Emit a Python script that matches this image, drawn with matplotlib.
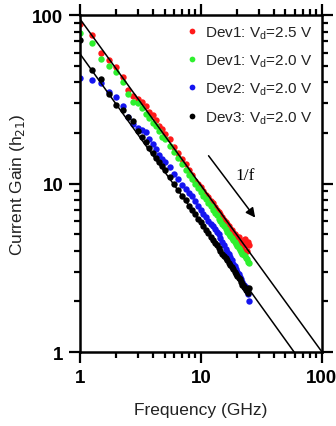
import numpy as np
import matplotlib.pyplot as plt

plt.rcParams['font.family'] = ['Liberation Sans', 'DejaVu Sans']

# frequency sweep (GHz), shared by all devices
freq = [1.0, 1.25, 1.5, 1.75, 2.0, 2.25, 2.5, 2.75, 3.0, 3.25, 3.5, 3.75, 4.0,
        4.25, 4.5, 4.75, 5.0, 5.5, 6.0, 6.5, 7.0, 7.5, 8.0, 8.5, 9.0, 9.5,
        10.0, 10.5, 11.0, 11.5, 12.0, 12.5, 13.0, 13.5, 14.0, 14.5, 15.0,
        15.5, 16.0, 16.5, 17.0, 17.5, 18.0, 18.5, 19.0, 19.5, 20.0, 20.5,
        21.0, 21.5, 22.0, 22.5, 23.0, 23.5, 24.0, 24.5, 25.0]

# current gain |h21| per device
dev1_25 = [89, 76, 60, 54, 49, 43, 36, 33, 32, 30.5, 29, 26.5, 25.5,
           24, 22, 21, 19.8, 18.5, 16.5, 15.2, 14.0, 13.0, 12.0, 11.2, 10.4, 10.0,
           9.5, 9.0, 8.6, 8.3, 7.9, 7.7, 7.3, 7.0, 6.8, 6.6, 6.3,
           6.1, 5.9, 5.8, 5.6, 5.4, 5.3, 5.1, 5.0, 4.9, 4.7, 4.8,
           4.5, 4.3, 4.1, 4.6, 4.7, 4.3, 4.0, 4.5, 4.3]
dev1_20 = [78, 68, 55, 50, 46, 40, 34, 30.5, 30, 28, 26, 24.5, 23,
           22, 20.5, 19, 18.3, 16.8, 15.5, 14.2, 13.0, 12.0, 11.2, 10.6, 9.9, 9.4,
           8.9, 8.5, 8.1, 7.7, 7.4, 7.0, 6.7, 6.5, 6.2, 6.0, 5.8,
           5.6, 5.4, 5.2, 5.05, 4.9, 4.75, 4.6, 4.5, 4.4, 4.25, 4.15,
           4.05, 3.95, 3.85, 3.75, 3.7, 3.6, 3.55, 3.45, 3.4]
dev2_20 = [42.5, 41, 39.5, 35, 32.5, 29, 25, 22.5, 21.5, 20.8, 20.2, 18.5, 17.2,
           16, 14.8, 14, 13.5, 12.6, 11.4, 10.6, 9.8, 9.3, 8.8, 8.4, 7.9, 7.4,
           7.0, 6.6, 6.3, 6.0, 5.8, 5.6, 5.4, 5.2, 5.0, 4.75, 4.5,
           4.3, 4.1, 3.95, 3.8, 3.65, 3.5, 3.35, 3.25, 3.1, 3.0, 2.9,
           2.8, 2.7, 2.6, 2.5, 2.4, 2.45, 2.3, 2.2, 2.0]
dev3_20 = [71, 47, 42, 34, 29.5, 27.5, 25, 23.5, 20.5, 18.8, 17.6, 16.3, 15.2,
           14.3, 13.5, 12.8, 12.0, 11.0, 10.0, 9.2, 8.5, 8.0, 7.4, 7.0, 6.6, 6.2,
           5.9, 5.6, 5.3, 5.1, 4.85, 4.65, 4.45, 4.3, 4.15, 4.0, 3.85,
           3.7, 3.6, 3.5, 3.4, 3.3, 3.2, 3.1, 3.0, 2.92, 2.85, 2.75,
           2.7, 2.6, 2.5, 2.45, 2.4, 2.35, 2.3, 2.25, 2.4]

series = [dev1_25, dev1_20, dev2_20, dev3_20]
labels = ['Dev1: V$_\\mathregular{d}$=2.5 V', 'Dev1: V$_\\mathregular{d}$=2.0 V',
          'Dev2: V$_\\mathregular{d}$=2.0 V', 'Dev3: V$_\\mathregular{d}$=2.0 V']
colors = ['#ff1a1a', '#2ef02e', '#1414f0', '#000000']

# 1/f guide lines: h21 = A / f^n
fit_A = [95, 59]
fit_n = [0.988, 1.0]

fig = plt.figure(figsize=(3.36, 4.27), dpi=100)
ax = fig.add_axes([0.238, 0.173, 0.72, 0.789])

for y, lab, c in zip(series, labels, colors):
    ax.plot(freq, y, 'o', color=c, ms=4.6, mew=0, label=lab)

for A, n in zip(fit_A, fit_n):
    f_end = A ** (1 / n)
    ax.plot([1, f_end], [A, 1], color='black', lw=1.1)

ax.annotate('', xy=(29.0, 6.1), xytext=(11.2, 15.1),
            arrowprops=dict(arrowstyle='-|>', color='black', lw=1.1,
                            mutation_scale=14))
ax.text(23.1, 11.3, '1/f', family='Liberation Serif', fontsize=12.5,
        ha='center', va='center')

ax.set_xscale('log')
ax.set_yscale('log')
ax.set_xlim(1, 100)
ax.set_ylim(1, 100)
ax.set_xticks([1, 10, 100])
ax.set_xticklabels(['1', '10', '100'])
ax.set_yticks([1, 10, 100])
ax.set_yticklabels(['1', '10', '100'])

for s in ax.spines.values():
    s.set_linewidth(1.8)
ax.tick_params(which='both', direction='out', top=True, right=True, width=1.6)
ax.tick_params(which='major', length=8, labelsize=13.5, pad=4)
ax.tick_params(which='minor', length=4.5)
for t in ax.get_xticklabels() + ax.get_yticklabels():
    t.set_fontweight('bold')

ax.set_xlabel('Frequency (GHz)', fontsize=12.5, color='#222222', labelpad=12)
ax.set_ylabel('Current Gain (h$_{21}$)', fontsize=12.5, color='#222222', labelpad=4)

ax.legend(loc='upper right', frameon=False, fontsize=11, handletextpad=0.3,
          borderaxespad=0.2, labelspacing=0.75, handlelength=1.2,
          markerscale=0.9, labelcolor='#222222')

plt.savefig('out.png', dpi=100)
